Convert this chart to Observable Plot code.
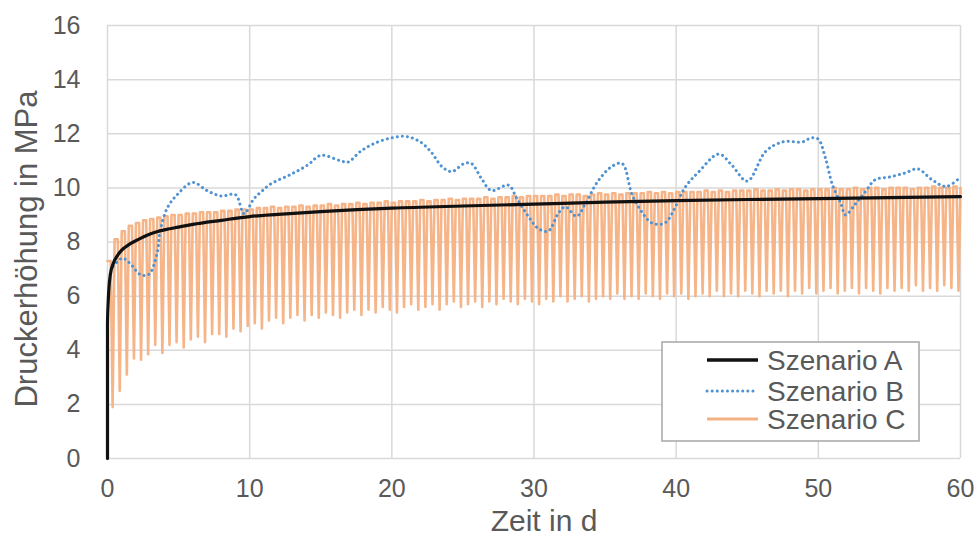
<!DOCTYPE html>
<html>
<head>
<meta charset="utf-8">
<script src="https://cdn.jsdelivr.net/npm/d3@7"></script>
<script src="https://cdn.jsdelivr.net/npm/@observablehq/plot@0.6"></script>
<style>
  html, body { margin: 0; padding: 0; background: #fff; }
  #wrap { position: relative; width: 978px; height: 542px; font-family: "Liberation Sans", Arial, sans-serif; }
</style>
</head>
<body>
<div id="wrap"></div>
<script>
// ---- Data ----
const xTicks = [0, 10, 20, 30, 40, 50, 60];
const yTicks = [0, 2, 4, 6, 8, 10, 12, 14, 16];
const seriesNames = ["Szenario A", "Szenario B", "Szenario C"];

// Szenario A (black, smooth)
const aDays   = [0, 0, 0.05, 0.1, 0.2, 0.4, 0.7, 1, 1.5, 2, 3, 4, 5, 6, 8, 10, 12, 15, 20, 25, 30, 35, 40, 45, 50, 55, 60];
const aValues = [0, 4.95, 5.8, 6.3, 6.8, 7.2, 7.5, 7.7, 7.9, 8.05, 8.3, 8.45, 8.55, 8.65, 8.8, 8.94, 9.02, 9.12, 9.25, 9.33, 9.4, 9.47, 9.53, 9.57, 9.6, 9.64, 9.68];

// Szenario B (blue, dotted)
const bDays   = [0.4, 1.05, 1.6, 2.3, 2.9, 3.5, 3.7, 4.2, 4.9, 6.0, 7.0, 8.0, 9.0, 9.6, 10.3, 10.8, 11.5, 12.9, 14.1, 15.0, 16.4, 16.9, 17.8, 18.8, 20.0, 21.0, 22.0, 22.8, 23.5, 24.2, 25.1, 25.6, 26.3, 27.0, 28.2, 28.8, 29.6, 30.3, 31.0, 31.7, 32.2, 33.0, 33.6, 34.5, 35.5, 36.2, 36.9, 37.6, 38.3, 39.2, 39.9, 40.6, 41.6, 43.0, 43.9, 45.0, 46.3, 47.5, 48.9, 49.5, 50.0, 50.5, 51.0, 51.6, 51.9, 52.6, 53.3, 54.0, 55.0, 56.1, 57.0, 58.0, 59.0, 60.0];
const bValues = [7.1, 7.4, 7.2, 6.8, 6.8, 7.6, 8.4, 9.25, 9.75, 10.2, 9.9, 9.7, 9.75, 9.05, 9.6, 9.85, 10.15, 10.5, 10.85, 11.2, 11.0, 10.95, 11.35, 11.65, 11.85, 11.9, 11.7, 11.3, 10.8, 10.6, 10.9, 10.9, 10.35, 9.9, 10.1, 9.6, 8.95, 8.5, 8.4, 9.05, 9.3, 8.95, 9.4, 10.25, 10.8, 10.9, 9.75, 9.1, 8.7, 8.7, 9.25, 10.0, 10.6, 11.25, 10.85, 10.25, 11.35, 11.7, 11.7, 11.85, 11.8, 11.1, 10.1, 9.4, 9.0, 9.4, 9.85, 10.3, 10.4, 10.55, 10.7, 10.3, 10.05, 10.4];

// Szenario C (orange, cyclic): one cycle every half day
const cPeriod = 0.5;
const cPeaks = [
  7.3, 8.1, 8.4, 8.6, 8.7, 8.8, 8.85, 8.9, 8.95, 9.0, 9.0, 9.05, 9.05, 9.1, 9.1, 9.1, 9.15, 9.15, 9.2, 9.2, 9.2,
  9.25, 9.25, 9.3, 9.25, 9.3, 9.3, 9.35, 9.3, 9.35, 9.35, 9.4, 9.35, 9.4, 9.4, 9.45, 9.4, 9.45, 9.45, 9.5, 9.45,
  9.5, 9.5, 9.5, 9.55, 9.5, 9.55, 9.55, 9.6, 9.55, 9.6, 9.6, 9.6, 9.65, 9.6, 9.65, 9.65, 9.7, 9.65, 9.7, 9.7,
  9.7, 9.7, 9.75, 9.7, 9.75, 9.75, 9.7, 9.75, 9.8, 9.75, 9.8, 9.75, 9.8, 9.8, 9.8, 9.85, 9.8, 9.85, 9.8, 9.85,
  9.85, 9.85, 9.85, 9.9, 9.85, 9.9, 9.85, 9.9, 9.9, 9.9, 9.95, 9.9, 9.9, 9.95, 9.9, 9.95, 9.95, 9.9, 9.95, 9.95,
  9.95, 10.0, 9.95, 9.95, 10.0, 9.95, 10.0, 10.0, 9.95, 10.0, 10.0, 10.0, 9.95, 10.0, 10.0, 10.05, 10.0, 10.0, 10.05, 10.0
];
const cTroughs = [
  1.9, 2.5, 3.1, 3.7, 3.65, 3.85, 4.2, 3.9, 4.2, 4.3, 4.1, 4.4, 4.5, 4.3, 4.6, 4.6, 4.5, 4.8, 4.7, 4.9,
  5.0, 4.8, 5.1, 5.2, 5.0, 5.2, 5.3, 5.1, 5.3, 5.2, 5.4, 5.3, 5.2, 5.4, 5.5, 5.3, 5.5, 5.4, 5.6, 5.5,
  5.4, 5.6, 5.7, 5.5, 5.6, 5.7, 5.5, 5.7, 5.8, 5.6, 5.7, 5.8, 5.6, 5.8, 5.7, 5.9, 5.8, 5.7, 5.9, 5.8,
  5.7, 5.9, 5.8, 6.0, 5.8, 5.9, 6.0, 5.8, 5.9, 6.0, 5.9, 6.1, 5.9, 6.0, 5.9, 6.1, 6.0, 5.9, 6.1, 6.0,
  6.1, 5.9, 6.0, 6.1, 6.0, 6.2, 6.0, 6.1, 6.0, 6.2, 6.1, 6.0, 6.2, 6.1, 6.2, 6.0, 6.2, 6.1, 6.3, 6.1,
  6.2, 6.3, 6.1, 6.2, 6.3, 6.1, 6.3, 6.2, 6.1, 6.3, 6.2, 6.3, 6.2, 6.4, 6.2, 6.3, 6.2, 6.4, 6.3, 6.2
];

// ---- Build tables ----
const aData = aDays.map((t, i) => ({t, v: aValues[i]}));
const bData = bDays.map((t, i) => ({t, v: bValues[i]}));
const cData = [];
cTroughs.forEach((tr, i) => {
  const t0 = i * cPeriod;
  cData.push({t: t0, v: cPeaks[i]});
  cData.push({t: t0 + cPeriod * 0.45, v: cPeaks[i]});
  cData.push({t: t0 + cPeriod * 0.72, v: tr});
});
cData.push({t: cTroughs.length * cPeriod, v: cPeaks[cPeaks.length - 1]});

const colA = "#111111", colB = "#4f93d2", colC = "#f4b183";
const textCol = "#595959", gridCol = "#d9d9d9";
const fontFam = '"Liberation Sans", Arial, sans-serif';

const chart = Plot.plot({
  width: 978,
  height: 542,
  marginLeft: 107,
  marginRight: 18,
  marginTop: 25,
  marginBottom: 84,
  style: {fontFamily: fontFam, color: textCol, background: "#fff", overflow: "visible"},
  x: {domain: [0, 60]},
  y: {domain: [0, 16]},
  marks: [
    Plot.gridX(xTicks, {stroke: gridCol, strokeOpacity: 1, strokeWidth: 1.5}),
    Plot.gridY(yTicks, {stroke: gridCol, strokeOpacity: 1, strokeWidth: 1.5}),
    Plot.axisX(xTicks, {tickSize: 0, tickPadding: 21, fontSize: 25, label: null, tickFormat: d => d}),
    Plot.axisY(yTicks, {tickSize: 0, tickPadding: 27, fontSize: 25, label: null, tickFormat: d => d}),
    Plot.text(["Zeit in d"], {frameAnchor: "bottom", textAnchor: "middle", dx: 10, dy: 72, fontSize: 30, lineAnchor: "bottom", fill: textCol, text: d => d}),
    Plot.text(["Druckerhöhung in MPa"], {frameAnchor: "left", textAnchor: "middle", lineAnchor: "middle", dx: -80, dy: 7, rotate: -90, fontSize: 31, fill: textCol, text: d => d}),
    Plot.line(cData, {x: "t", y: "v", stroke: colC, strokeWidth: 2.6, strokeOpacity: 0.95}),
    Plot.line(bData, {x: "t", y: "v", stroke: colB, strokeWidth: 3, strokeDasharray: "0.1 5", strokeLinecap: "round", curve: "catmull-rom"}),
    Plot.line(aData, {x: "t", y: "v", stroke: colA, strokeWidth: 3.2, curve: "monotone-x"})
  ]
});

const wrap = document.getElementById("wrap");
wrap.appendChild(chart);

// ---- Legend ----
const legendStyles = [
  {stroke: colA, width: 3.5, dash: null},
  {stroke: colB, width: 3, dash: "0.1 5"},
  {stroke: colC, width: 3, dash: null}
];
const ns = "http://www.w3.org/2000/svg";
const lg = document.createElementNS(ns, "svg");
lg.setAttribute("width", 260);
lg.setAttribute("height", 102);
lg.style.position = "absolute";
lg.style.left = "661px";
lg.style.top = "341px";
const box = document.createElementNS(ns, "rect");
box.setAttribute("x", 1); box.setAttribute("y", 1);
box.setAttribute("width", 257); box.setAttribute("height", 99);
box.setAttribute("fill", "#fff"); box.setAttribute("stroke", "#a6a6a6"); box.setAttribute("stroke-width", 1.5);
lg.appendChild(box);
const rowsY = [19, 50, 78];
seriesNames.forEach((name, i) => {
  const ln = document.createElementNS(ns, "line");
  ln.setAttribute("x1", 46); ln.setAttribute("x2", 97);
  ln.setAttribute("y1", rowsY[i]); ln.setAttribute("y2", rowsY[i]);
  ln.setAttribute("stroke", legendStyles[i].stroke);
  ln.setAttribute("stroke-width", legendStyles[i].width);
  if (legendStyles[i].dash) { ln.setAttribute("stroke-dasharray", legendStyles[i].dash); ln.setAttribute("stroke-linecap", "round"); }
  lg.appendChild(ln);
  const tx = document.createElementNS(ns, "text");
  tx.setAttribute("x", 106); tx.setAttribute("y", rowsY[i]);
  tx.setAttribute("dy", "0.36em");
  tx.setAttribute("font-size", 28);
  tx.setAttribute("fill", textCol);
  tx.setAttribute("font-family", fontFam);
  tx.textContent = name;
  lg.appendChild(tx);
});
wrap.appendChild(lg);
</script>
</body>
</html>
